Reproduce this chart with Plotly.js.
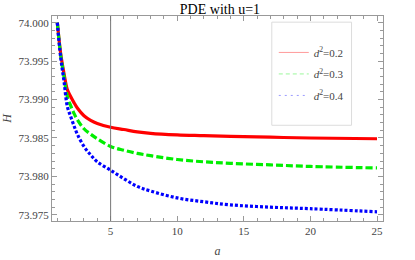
<!DOCTYPE html>
<html>
<head>
<meta charset="utf-8">
<script src="https://cdn.plot.ly/plotly-3.0.1.min.js"></script>
<style>html,body{margin:0;padding:0;background:#fff;}#chart{width:415px;height:260px;}</style>
</head>
<body>
<div id="chart"></div>
<script>
var aValues = [1, 1.25, 1.5, 1.75, 2, 2.25, 2.5, 3, 3.5, 4, 5, 6, 7, 8, 10, 12, 14, 17, 20, 25];
var hD02 = [74.0000, 73.9960, 73.9934, 73.9913, 73.9904, 73.9896, 73.9889, 73.9879, 73.9873, 73.9869, 73.9864, 73.9861, 73.9858, 73.9856, 73.9854, 73.9853, 73.9852, 73.9851, 73.9850, 73.9849];
var hD03 = [74.0000, 73.9958, 73.9930, 73.9904, 73.9892, 73.9882, 73.9874, 73.9862, 73.9855, 73.9849, 73.9839, 73.9834, 73.9830, 73.9827, 73.9822, 73.9819, 73.9817, 73.9815, 73.9813, 73.9811];
var hD04 = [74.0000, 73.9955, 73.9924, 73.9891, 73.9878, 73.9866, 73.9855, 73.9839, 73.9828, 73.9819, 73.9808, 73.9797, 73.9787, 73.9781, 73.9772, 73.9767, 73.9763, 73.9760, 73.9758, 73.9754];
var seriesNames = ['<i>d</i><sup>2</sup>=0.2', '<i>d</i><sup>2</sup>=0.3', '<i>d</i><sup>2</sup>=0.4'];
var markerA = 5;

var colors = ['#ff0000', '#00ee00', '#0000ff'];
var dashes = ['solid', '7px,3px', '3px,2px'];
var ys = [hD02, hD03, hD04];
var traces = [];
for (var i = 0; i < 3; i++) {
  traces.push({
    x: aValues, y: ys[i], type: 'scatter', mode: 'lines',
    line: {color: colors[i], width: 3.2, dash: dashes[i], shape: 'spline', smoothing: 1},
    showlegend: false, hoverinfo: 'skip'
  });
}
for (var j = 0; j < 3; j++) {
  traces.push({
    x: [null], y: [null], type: 'scatter', mode: 'lines', name: seriesNames[j],
    legendgroup: 'g' + j,
    line: {color: colors[j], width: 1, dash: j === 0 ? 'solid' : (j === 1 ? '4px,3px' : '2px,4px')},
    opacity: 0.4, showlegend: true
  });
}

var axisCommon = {
  showgrid: false, zeroline: false, showline: true, linecolor: '#999', linewidth: 1,
  mirror: 'allticks', ticks: 'inside', ticklen: 5, tickcolor: '#999', tickwidth: 1,
  tickfont: {family: 'Liberation Serif', size: 11, color: '#444'}
};

var layout = {
  width: 415, height: 260,
  margin: {l: 52, r: 32, t: 16, b: 39},
  paper_bgcolor: '#fff', plot_bgcolor: '#fff',
  title: {text: 'PDE with u=1', font: {family: 'Liberation Serif', size: 14, color: '#000'},
          x: 0.53, xanchor: 'center', y: 0.985, yanchor: 'top'},
  xaxis: Object.assign({}, axisCommon, {
    range: [0.6, 25.45], tickvals: [5, 10, 15, 20, 25], ticktext: ['5', '10', '15', '20', '25'],
    minor: {dtick: 1, tick0: 0, ticks: 'inside', ticklen: 3, tickcolor: '#999'},
    title: {text: '<i>a</i>', font: {family: 'Liberation Serif', size: 12, color: '#444'}, standoff: 10}
  }),
  yaxis: Object.assign({}, axisCommon, {
    range: [73.9742, 74.00087], tickvals: [73.975, 73.98, 73.985, 73.99, 73.995, 74.0],
    ticktext: ['73.975', '73.980', '73.985', '73.990', '73.995', '74.000'],
    minor: {dtick: 0.001, tick0: 73.975, ticks: 'inside', ticklen: 3, tickcolor: '#999'},
    title: {text: '<i>H</i>', font: {family: 'Liberation Serif', size: 12, color: '#444'}, standoff: 6}
  }),
  showlegend: true,
  legend: {x: 0.67, xanchor: 'left', y: 0.893, yanchor: 'top', bgcolor: 'rgba(0,0,0,0)',
           borderwidth: 0, tracegroupgap: 2.5,
           font: {family: 'Liberation Serif', size: 11, color: '#444'}},
  shapes: [
    {type: 'line', xref: 'x', yref: 'paper', x0: markerA, x1: markerA, y0: 0, y1: 1,
     line: {color: '#777', width: 1}},
    {type: 'rect', xref: 'paper', yref: 'paper', x0: 0.664, x1: 0.905, y0: 0.467, y1: 0.97,
     line: {color: '#dcdcdc', width: 1}, fillcolor: 'rgba(0,0,0,0)'}
  ]
};

Plotly.newPlot('chart', traces, layout, {displayModeBar: false, staticPlot: true});
</script>
</body>
</html>
